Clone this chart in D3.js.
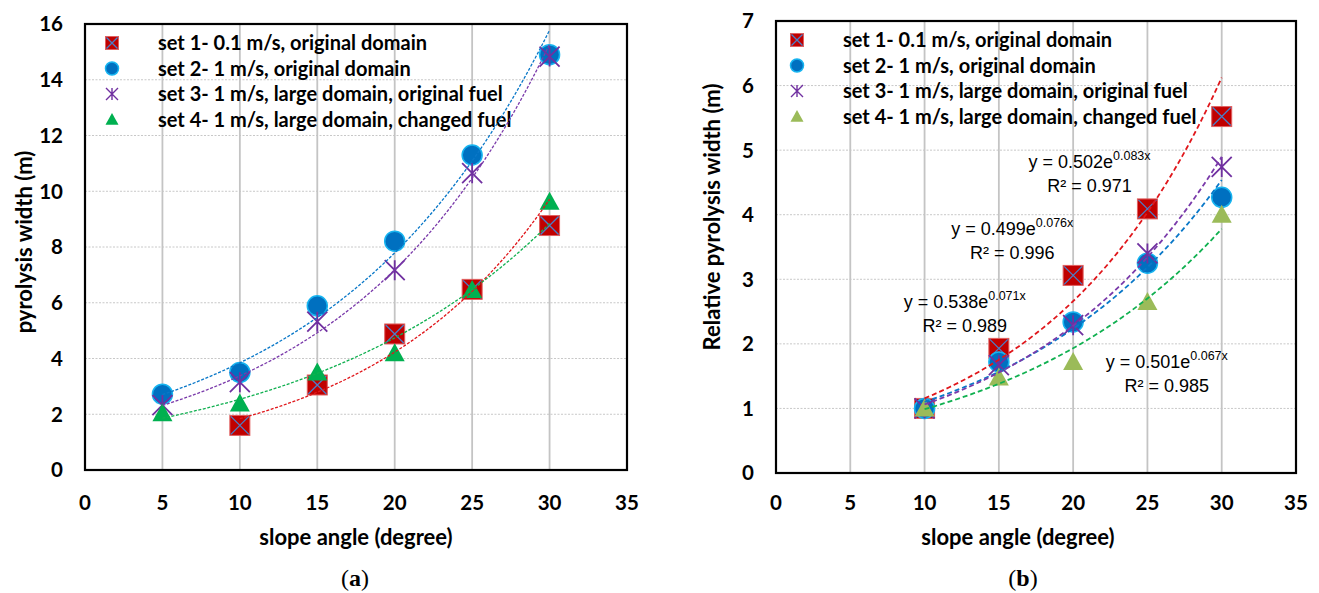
<!DOCTYPE html>
<html>
<head>
<meta charset="utf-8">
<script src="https://cdn.jsdelivr.net/npm/d3@7"></script>
<style>
body { margin: 0; background: #fff; }
text { font-family: Lato, "Open Sans", sans-serif; }
</style>
</head>
<body>
<div id="chart"></div>
<script>
// ---- data ----
var slopeA = [5, 10, 15, 20, 25, 30];
var widthSet1 = [null, 1.6, 3.05, 4.88, 6.48, 8.77];
var widthSet2 = [2.72, 3.5, 5.89, 8.21, 11.3, 14.9];
var widthSet3 = [2.33, 3.15, 5.32, 7.17, 10.65, 14.83];
var widthSet4 = [2.04, 2.39, 3.5, 4.19, 6.46, 9.62];

var slopeB = [10, 15, 20, 25, 30];
var relSet1 = [1, 1.93, 3.06, 4.09, 5.52];
var relSet2 = [1, 1.72, 2.34, 3.25, 4.27];
var relSet3 = [1, 1.67, 2.29, 3.4, 4.74];
var relSet4 = [1, 1.48, 1.72, 2.65, 4.0];

var legendLabels = [
  "set 1- 0.1 m/s, original domain",
  "set 2- 1 m/s, original domain",
  "set 3- 1 m/s, large domain, original fuel",
  "set 4- 1 m/s, large domain, changed fuel"
];
var xTicks = [0, 5, 10, 15, 20, 25, 30, 35];
var yTicksA = [0, 2, 4, 6, 8, 10, 12, 14, 16];
var yTicksB = [0, 1, 2, 3, 4, 5, 6, 7];

// fit labels of panel (b), in series order set1..set4
var fitCoef = ["0.502", "0.538", "0.499", "0.501"];
var fitExp = ["0.083x", "0.071x", "0.076x", "0.067x"];
var fitR2 = ["0.971", "0.989", "0.996", "0.985"];

var width = 1319, height = 593;

var svg = d3.select("#chart").append("svg")
  .attr("width", width).attr("height", height)
  .style("display", "block");

svg.append("rect").attr("width", width).attr("height", height).attr("fill", "#fff");

// exponential fit the way the spreadsheet does it (least squares on ln y)
function expFit(xs, ys) {
  var pts = [];
  xs.forEach(function(x, i) { if (ys[i] != null) pts.push([x, Math.log(ys[i])]); });
  var mx = d3.mean(pts, function(p) { return p[0]; });
  var my = d3.mean(pts, function(p) { return p[1]; });
  var sxy = d3.sum(pts, function(p) { return (p[0] - mx) * (p[1] - my); });
  var sxx = d3.sum(pts, function(p) { return (p[0] - mx) * (p[0] - mx); });
  var b = sxy / sxx, a = Math.exp(my - b * mx);
  return { a: a, b: b, x0: d3.min(pts, function(p) { return p[0]; }), x1: d3.max(pts, function(p) { return p[0]; }) };
}

function drawMarker(g, type, cx, cy, s, colors) {
  var h = s / 2;
  if (type === "square") {
    g.append("rect").attr("x", cx - h).attr("y", cy - h).attr("width", s).attr("height", s)
      .attr("fill", "#c00000").attr("stroke", "#e06060").attr("stroke-width", 1);
    g.append("path").attr("d", "M" + (cx - h + 1) + "," + (cy - h + 1) + "L" + (cx + h - 1) + "," + (cy + h - 1) +
      "M" + (cx + h - 1) + "," + (cy - h + 1) + "L" + (cx - h + 1) + "," + (cy + h - 1))
      .attr("stroke", "#4a7ec8").attr("stroke-width", 1.3);
  } else if (type === "circle") {
    g.append("circle").attr("cx", cx).attr("cy", cy).attr("r", h)
      .attr("fill", "#0070c0").attr("stroke", "#17b4f0").attr("stroke-width", 1.5);
  } else if (type === "star") {
    g.append("path").attr("d", "M" + (cx - h) + "," + (cy - h) + "L" + (cx + h) + "," + (cy + h) +
      "M" + (cx + h) + "," + (cy - h) + "L" + (cx - h) + "," + (cy + h) +
      "M" + cx + "," + (cy - h) + "L" + cx + "," + (cy + h))
      .attr("stroke", "#7030a0").attr("stroke-width", s > 14 ? 1.8 : 1.4);
  } else {
    g.append("path").attr("d", "M" + cx + "," + (cy - h) + "L" + (cx + h) + "," + (cy + h * 0.8) +
      "L" + (cx - h) + "," + (cy + h * 0.8) + "Z")
      .attr("fill", colors.tri);
  }
}

function drawPanel(cfg) {
  var g = svg.append("g");
  var x = d3.scaleLinear().domain([0, 35]).range([cfg.left, cfg.right]);
  var y = d3.scaleLinear().domain([0, cfg.ymax]).range([cfg.bottom, cfg.top]);

  // horizontal grid (dotted)
  g.selectAll(".hg").data(cfg.yTicks.slice(1, -1)).enter().append("line")
    .attr("x1", cfg.left).attr("x2", cfg.right)
    .attr("y1", function(d) { return y(d); }).attr("y2", function(d) { return y(d); })
    .attr("stroke", "#c8c8c8").attr("stroke-width", 1).attr("stroke-dasharray", "2,1.5");
  // vertical grid (solid)
  g.selectAll(".vg").data(xTicks.slice(1, -1)).enter().append("line")
    .attr("y1", cfg.top).attr("y2", cfg.bottom)
    .attr("x1", function(d) { return x(d); }).attr("x2", function(d) { return x(d); })
    .attr("stroke", "#c4c4c4").attr("stroke-width", 1.8);

  // tick labels
  g.selectAll(".yt").data(cfg.yTicks).enter().append("text")
    .attr("x", cfg.left - 22).attr("y", function(d) { return y(d); }).attr("dy", "0.36em")
    .attr("text-anchor", "end").attr("font-size", 20.5).attr("font-weight", "bold")
    .text(function(d) { return d; });
  g.selectAll(".xt").data(xTicks).enter().append("text")
    .attr("x", function(d) { return x(d); }).attr("y", 510)
    .attr("text-anchor", "middle").attr("font-size", 20.5).attr("font-weight", "bold")
    .text(function(d) { return d; });

  // axis titles
  g.append("text").attr("x", (cfg.left + cfg.right) / 2 + cfg.xTitleShift).attr("y", 545)
    .attr("text-anchor", "middle").attr("font-size", 22).attr("font-weight", "bold")
    .text("slope angle (degree)");
  g.append("text").attr("transform", "translate(" + cfg.yTitleX + "," + cfg.yTitleY + ") rotate(-90)")
    .attr("text-anchor", "middle").attr("font-size", 22).attr("font-weight", "bold")
    .text(cfg.yTitle);

  // legend
  var types = ["square", "circle", "star", "tri"];
  legendLabels.forEach(function(lab, i) {
    var ly = cfg.top + 19 + i * 25.5;
    drawMarker(g, types[i], cfg.left + cfg.legMark, ly, types[i] === "star" ? 12 : 13, cfg);
    g.append("text").attr("x", cfg.left + cfg.legText).attr("y", ly).attr("dy", "0.35em")
      .attr("font-size", 20).attr("font-weight", "bold").text(lab);
  });

  // markers
  cfg.series.forEach(function(ys, i) {
    cfg.xs.forEach(function(xv, j) {
      if (ys[j] == null) return;
      drawMarker(g, types[i], x(xv), y(ys[j]), 20, cfg);
    });
  });

  // trendlines
  var line = d3.line().x(function(d) { return x(d[0]); }).y(function(d) { return y(d[1]); });
  cfg.series.forEach(function(ys, i) {
    var f = expFit(cfg.xs, ys);
    var pts = d3.range(0, 61).map(function(k) {
      var xv = f.x0 + (f.x1 - f.x0) * k / 60;
      return [xv, f.a * Math.exp(f.b * xv)];
    });
    g.append("path").attr("d", line(pts)).attr("fill", "none")
      .attr("stroke", cfg.lineColors[i]).attr("stroke-width", cfg.lineW)
      .attr("stroke-dasharray", cfg.dash);
  });

  // frame
  g.append("rect").attr("x", cfg.left).attr("y", cfg.top)
    .attr("width", cfg.right - cfg.left).attr("height", cfg.bottom - cfg.top)
    .attr("fill", "none").attr("stroke", "#000").attr("stroke-width", 2.2);

  // caption
  var cap = g.append("text").attr("x", cfg.capX).attr("y", 586).attr("text-anchor", "middle")
    .attr("font-size", 24).style("font-family", "'Liberation Serif', 'DejaVu Serif', serif");
  cap.append("tspan").text("(");
  cap.append("tspan").attr("font-weight", "bold").text(cfg.cap);
  cap.append("tspan").text(")");

  return { g: g, x: x, y: y };
}

var lineColors = ["#e0161b", "#0a78c8", "#7a3aaa", "#10b050"];

drawPanel({
  left: 85, right: 627, top: 24, bottom: 470, ymax: 16,
  yTicks: yTicksA, xs: slopeA,
  series: [widthSet1, widthSet2, widthSet3, widthSet4],
  tri: "#00b050", lineColors: lineColors, lineW: 1.3, dash: "3,1.6",
  legMark: 27, legText: 73,
  yTitle: "pyrolysis width (m)", yTitleX: 32, yTitleY: 242,
  xTitleShift: 0, capX: 355, cap: "a"
});

var pb = drawPanel({
  left: 776, right: 1296, top: 21, bottom: 473, ymax: 7,
  yTicks: yTicksB, xs: slopeB,
  series: [relSet1, relSet2, relSet3, relSet4],
  tri: "#9bbb59", lineColors: lineColors, lineW: 1.8, dash: "5,3",
  legMark: 21, legText: 67,
  yTitle: "Relative pyrolysis width (m)", yTitleX: 720, yTitleY: 217,
  xTitleShift: -18, capX: 1023, cap: "b"
});

// fit equations of panel (b): label centre in data units, baseline of first line
var labelAt = [[21.1, 4.72], [12.7, 2.56], [15.9, 3.69], [26.3, 1.63]];
fitCoef.forEach(function(c, i) {
  var cx = pb.x(labelAt[i][0]), by = pb.y(labelAt[i][1]);
  var t = pb.g.append("text").attr("x", cx).attr("y", by).attr("text-anchor", "middle")
    .attr("font-size", 18).style("font-family", "'Liberation Sans', Arial, sans-serif");
  t.append("tspan").text("y = " + c + "e");
  t.append("tspan").attr("dy", -8).attr("font-size", 12.5).text(fitExp[i]);
  pb.g.append("text").attr("x", cx).attr("y", by + 24).attr("text-anchor", "middle")
    .attr("font-size", 18).style("font-family", "'Liberation Sans', Arial, sans-serif")
    .text("R\u00b2 = " + fitR2[i]);
});
</script>
</body>
</html>
